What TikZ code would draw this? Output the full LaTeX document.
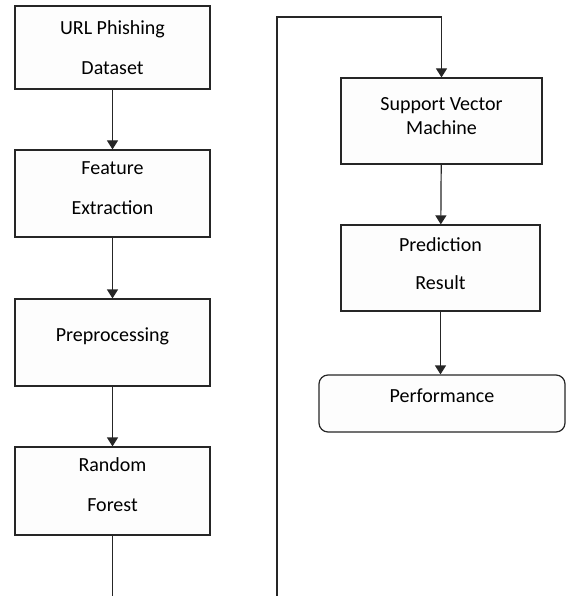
\documentclass[tikz,border=0pt]{standalone}
\usepackage{fontspec}
\setmainfont{Carlito}
\usetikzlibrary{arrows.meta}
\definecolor{boxline}{HTML}{262626}
\definecolor{boxfill}{HTML}{FDFDFD}

\begin{document}
\begin{tikzpicture}[x=1pt, y=-1pt,
    stage/.style={draw=boxline, fill=boxfill, line width=1.2pt, align=center,
                  font=\fontsize{20}{40}\selectfont, inner sep=0pt},
    flow/.style={draw=boxline, line width=1.2pt, -{Triangle[length=9pt,width=11pt]}}]
              % Fix the page size
              \useasboundingbox (0,0) rectangle (566,596);
              \clip (0,0) rectangle (566,596);

              % Left column
              \node[stage, minimum width=195pt, minimum height=83pt] (data) at (112.5,47.5) {URL Phishing\\Dataset};
              \node[stage, text depth=10pt, minimum width=195pt, minimum height=87pt] (feat) at (112.5,193.5) {Feature\\Extraction};
              \node[stage, text depth=16pt, minimum width=195pt, minimum height=87pt] (prep) at (112.5,342.5) {Preprocessing};
              \node[stage, text depth=12pt, minimum width=195pt, minimum height=88pt] (rf) at (112.5,491) {Random\\Forest};

              % Right column
              \node[stage, font=\fontsize{20}{24}\selectfont, text depth=10pt, minimum width=201pt, minimum height=86pt] (svm) at (441.5,121) {Support Vector\\Machine};
              \node[stage, font=\fontsize{20}{38}\selectfont, text depth=8pt, minimum width=199pt, minimum height=86pt] (pred) at (440.5,268) {Prediction\\Result};
              \node[stage, rounded corners=9pt, text depth=16pt, minimum width=246pt, minimum height=57pt] (perf) at (442,403.5) {Performance};

              % Corners of the link between the columns
              \coordinate (loopbot) at (277,640);
              \coordinate (looptop) at (277,17);

              % Arrows
              \draw[flow] (data) -- (feat);
              \draw[flow] (feat) -- (prep);
              \draw[flow] (prep) -- (rf);
              \draw[flow] (rf.south) |- (loopbot) -- (looptop) -| (svm.north);
              \draw[flow] (svm) -- (pred);
              \draw[flow] (pred.south) -- (pred.south |- perf.north);
            \end{tikzpicture}
\end{document}
